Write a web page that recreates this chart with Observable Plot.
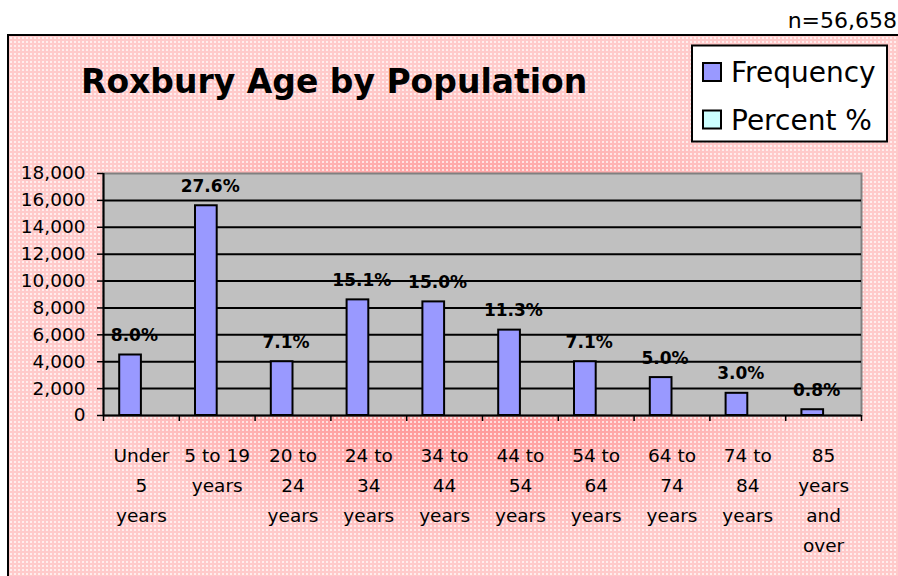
<!DOCTYPE html>
<html>
<head>
<meta charset="utf-8">
<script src="https://cdn.jsdelivr.net/npm/d3@7"></script>
<script src="https://cdn.jsdelivr.net/npm/@observablehq/plot@0.6"></script>
<style>
  html, body { margin: 0; padding: 0; background: #fff; }
  #wrap { position: relative; width: 898px; height: 576px; overflow: hidden; background: #fff; }
  #bg {
    position: absolute; left: 7px; top: 34px; width: 900px; height: 560px;
    border-left: 2px solid #000; border-top: 2px solid #000;
    background-color: #ffcaca;
    background-image:
      radial-gradient(circle, rgba(255,255,255,0.65) 0.8px, rgba(255,255,255,0) 1.4px),
      radial-gradient(ellipse 44% 42% at 50% 50%, #ff9494 0%, #ff9c9c 50%, rgba(255,202,202,0) 100%);
    background-size: 4px 4px, 100% 100%;
  }
  #chart { position: absolute; left: 0; top: 0; }
</style>
</head>
<body>
<div id="wrap"><div id="bg"></div><div id="chart"></div></div>
<script>
const title = "Roxbury Age by Population";
const note = "n=56,658";
const categories = ["Under 5 years", "5 to 19 years", "20 to 24 years", "24 to 34 years", "34 to 44 years",
  "44 to 54 years", "54 to 64 years", "64 to 74 years", "74 to 84 years", "85 years and over"];
const tickLabels = ["Under\n5\nyears", "5 to 19\nyears", "20 to\n24\nyears", "24 to\n34\nyears", "34 to\n44\nyears",
  "44 to\n54\nyears", "54 to\n64\nyears", "64 to\n74\nyears", "74 to\n84\nyears", "85\nyears\nand\nover"];
const frequency = [4500, 15600, 4000, 8600, 8450, 6350, 4000, 2820, 1650, 430];
const percent = [8.0, 27.6, 7.1, 15.1, 15.0, 11.3, 7.1, 5.0, 3.0, 0.8];
const series = ["Frequency", "Percent %"];
const seriesColors = ["#9999ff", "#ccffff"];
const yTicks = [0, 2000, 4000, 6000, 8000, 10000, 12000, 14000, 16000, 18000];

const data = categories.map((c, i) => ({i, category: c, label: tickLabels[i], value: frequency[i], pct: percent[i]}));
const boundaries = d3.range(categories.length + 1);
const font = "DejaVu Sans, Verdana, sans-serif";

const plot = Plot.plot({
  width: 898, height: 576,
  marginLeft: 103, marginRight: 37, marginTop: 173, marginBottom: 161,
  style: {background: "transparent", fontFamily: font, color: "#000", overflow: "visible"},
  x: {type: "linear", domain: [0, categories.length], axis: null},
  y: {domain: [0, 18000], axis: null},
  marks: [
    Plot.frame({fill: "#c0c0c0", stroke: "#808080", strokeWidth: 2}),
    Plot.ruleY(yTicks.filter(t => t > 0 && t < 18000), {stroke: "#000", strokeWidth: 2}),
    Plot.rectY(data, {x1: d => d.i, x2: d => d.i + 1, y: "value", insetLeft: 16.2, insetRight: 37.9,
      fill: seriesColors[0], stroke: "#000", strokeWidth: 2}),
    Plot.text(data, {x: d => d.i + 0.5, y: "value", text: d => d.pct.toFixed(1) + "%", dx: -7, dy: -14,
      lineAnchor: "bottom", fontSize: 17, fontWeight: "bold", fill: "#000"}),
    Plot.ruleX([0], {stroke: "#000", strokeWidth: 2}),
    Plot.ruleY([0], {stroke: "#000", strokeWidth: 2}),
    Plot.axisY({ticks: yTicks, tickFormat: d3.format(","), tickSize: 6, tickPadding: 12, fontSize: 18.5,
      label: null, stroke: "#000", strokeWidth: 1.5, fill: "#000"}),
    Plot.axisX({ticks: boundaries, tickFormat: () => "", label: null, tickSize: 6, stroke: "#000", strokeWidth: 1.5}),
    Plot.text(data, {x: d => d.i + 0.5, y: 0, text: "label", lineAnchor: "top", dy: 25, lineHeight: 1.62,
      fontSize: 18.5, fill: "#000"})
  ]
});
document.getElementById("chart").appendChild(plot);

// Title, note and legend drawn in the same SVG
const svg = d3.select(plot);
svg.append("text").attr("x", 81).attr("y", 93).attr("text-anchor", "start").attr("font-family", font)
  .attr("font-weight", "bold").attr("font-size", 33).attr("fill", "#000").text(title);
svg.append("text").attr("x", 897).attr("y", 28).attr("text-anchor", "end").attr("font-family", font)
  .attr("font-size", 22).attr("fill", "#000").text(note);
const lg = svg.append("g");
lg.append("rect").attr("x", 692).attr("y", 45.5).attr("width", 195).attr("height", 96)
  .attr("fill", "#fff").attr("stroke", "#000").attr("stroke-width", 2);
series.forEach((s, k) => {
  const y0 = 63 + k * 47.5;
  lg.append("rect").attr("x", 703).attr("y", y0).attr("width", 18).attr("height", 18)
    .attr("fill", seriesColors[k]).attr("stroke", "#000").attr("stroke-width", 2);
  lg.append("text").attr("x", 731).attr("y", y0 + 19).attr("text-anchor", "start").attr("font-family", font)
    .attr("font-size", 28).attr("fill", "#000").text(s);
});
</script>
</body>
</html>
